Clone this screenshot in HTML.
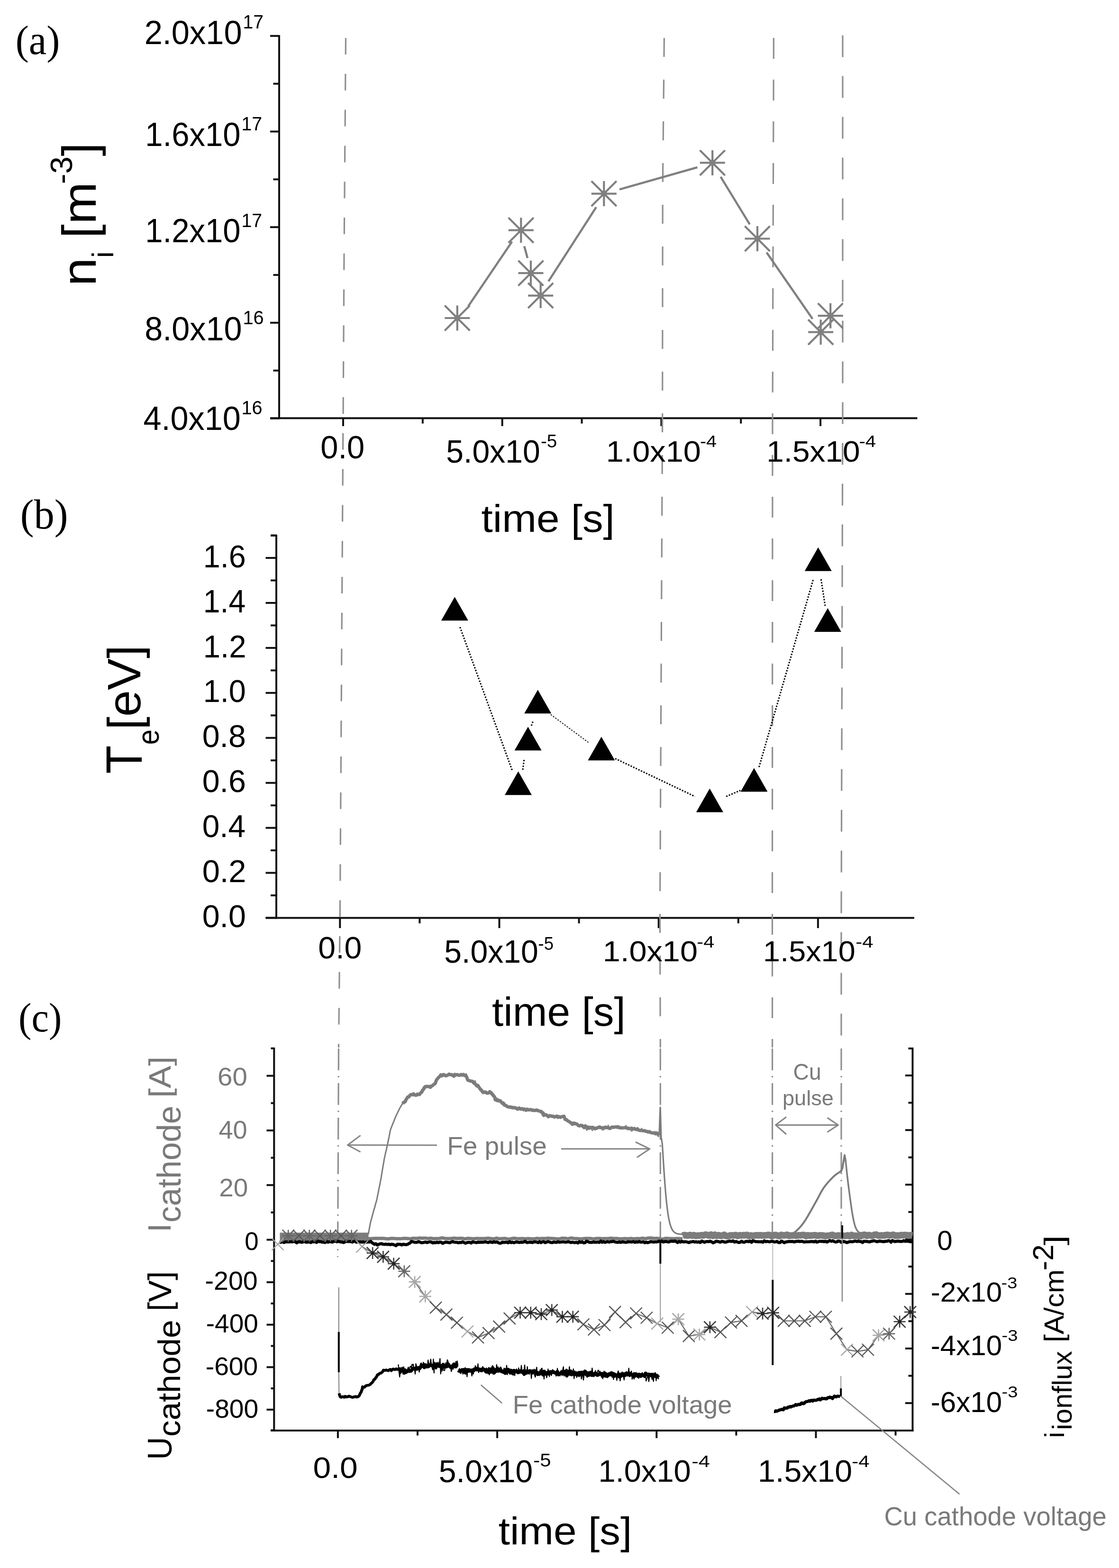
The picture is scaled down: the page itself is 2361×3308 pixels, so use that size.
<!DOCTYPE html>
<html><head><meta charset="utf-8"><title>Plasma pulse measurements</title>
<style>
html,body{margin:0;padding:0;background:#fff;}
svg{display:block;}
.S{font-family:"Liberation Sans",Arial,sans-serif;}
.R{font-family:"Liberation Serif","Times New Roman",serif;}
</style></head><body>
<svg width="2361" height="3308" viewBox="0 0 2361 3308">
<rect width="2361" height="3308" fill="#fff"/>
<line x1="589" y1="74" x2="589" y2="884.3" stroke="#111" stroke-width="4"/>
<line x1="570" y1="882.3" x2="1935.5" y2="882.3" stroke="#111" stroke-width="4"/>
<line x1="570" y1="75.8" x2="589" y2="75.8" stroke="#111" stroke-width="4"/>
<line x1="570" y1="277.5" x2="589" y2="277.5" stroke="#111" stroke-width="4"/>
<line x1="570" y1="479.2" x2="589" y2="479.2" stroke="#111" stroke-width="4"/>
<line x1="570" y1="680.9" x2="589" y2="680.9" stroke="#111" stroke-width="4"/>
<line x1="570" y1="882.6" x2="589" y2="882.6" stroke="#111" stroke-width="4"/>
<line x1="576.5" y1="176.65" x2="589" y2="176.65" stroke="#111" stroke-width="4"/>
<line x1="576.5" y1="378.35" x2="589" y2="378.35" stroke="#111" stroke-width="4"/>
<line x1="576.5" y1="580.05" x2="589" y2="580.05" stroke="#111" stroke-width="4"/>
<line x1="576.5" y1="781.75" x2="589" y2="781.75" stroke="#111" stroke-width="4"/>
<line x1="724" y1="882.3" x2="724" y2="899" stroke="#111" stroke-width="4"/>
<line x1="891.85" y1="882.3" x2="891.85" y2="893.5" stroke="#111" stroke-width="4"/>
<line x1="1059.7" y1="882.3" x2="1059.7" y2="899" stroke="#111" stroke-width="4"/>
<line x1="1227.55" y1="882.3" x2="1227.55" y2="893.5" stroke="#111" stroke-width="4"/>
<line x1="1395.4" y1="882.3" x2="1395.4" y2="899" stroke="#111" stroke-width="4"/>
<line x1="1563.25" y1="882.3" x2="1563.25" y2="893.5" stroke="#111" stroke-width="4"/>
<line x1="1731.1" y1="882.3" x2="1731.1" y2="899" stroke="#111" stroke-width="4"/>
<line x1="583" y1="1128" x2="583" y2="1938.4" stroke="#111" stroke-width="4"/>
<line x1="560.5" y1="1936.4" x2="1929" y2="1936.4" stroke="#111" stroke-width="4"/>
<line x1="560.5" y1="1936.4" x2="583" y2="1936.4" stroke="#111" stroke-width="4"/>
<line x1="571" y1="1888.94" x2="583" y2="1888.94" stroke="#111" stroke-width="4"/>
<line x1="560.5" y1="1841.48" x2="583" y2="1841.48" stroke="#111" stroke-width="4"/>
<line x1="571" y1="1794.02" x2="583" y2="1794.02" stroke="#111" stroke-width="4"/>
<line x1="560.5" y1="1746.56" x2="583" y2="1746.56" stroke="#111" stroke-width="4"/>
<line x1="571" y1="1699.1" x2="583" y2="1699.1" stroke="#111" stroke-width="4"/>
<line x1="560.5" y1="1651.64" x2="583" y2="1651.64" stroke="#111" stroke-width="4"/>
<line x1="571" y1="1604.18" x2="583" y2="1604.18" stroke="#111" stroke-width="4"/>
<line x1="560.5" y1="1556.72" x2="583" y2="1556.72" stroke="#111" stroke-width="4"/>
<line x1="571" y1="1509.26" x2="583" y2="1509.26" stroke="#111" stroke-width="4"/>
<line x1="560.5" y1="1461.8" x2="583" y2="1461.8" stroke="#111" stroke-width="4"/>
<line x1="571" y1="1414.34" x2="583" y2="1414.34" stroke="#111" stroke-width="4"/>
<line x1="560.5" y1="1366.88" x2="583" y2="1366.88" stroke="#111" stroke-width="4"/>
<line x1="571" y1="1319.42" x2="583" y2="1319.42" stroke="#111" stroke-width="4"/>
<line x1="560.5" y1="1271.96" x2="583" y2="1271.96" stroke="#111" stroke-width="4"/>
<line x1="571" y1="1224.5" x2="583" y2="1224.5" stroke="#111" stroke-width="4"/>
<line x1="560.5" y1="1177.04" x2="583" y2="1177.04" stroke="#111" stroke-width="4"/>
<line x1="571" y1="1129.58" x2="583" y2="1129.58" stroke="#111" stroke-width="4"/>
<line x1="571" y1="1129.7" x2="583" y2="1129.7" stroke="#111" stroke-width="4"/>
<line x1="717.3" y1="1936.4" x2="717.3" y2="1958" stroke="#111" stroke-width="4"/>
<line x1="885.4" y1="1936.4" x2="885.4" y2="1948" stroke="#111" stroke-width="4"/>
<line x1="1053.5" y1="1936.4" x2="1053.5" y2="1958" stroke="#111" stroke-width="4"/>
<line x1="1221.6" y1="1936.4" x2="1221.6" y2="1948" stroke="#111" stroke-width="4"/>
<line x1="1389.7" y1="1936.4" x2="1389.7" y2="1958" stroke="#111" stroke-width="4"/>
<line x1="1557.8" y1="1936.4" x2="1557.8" y2="1948" stroke="#111" stroke-width="4"/>
<line x1="1725.9" y1="1936.4" x2="1725.9" y2="1958" stroke="#111" stroke-width="4"/>
<line x1="578.3" y1="2210" x2="578.3" y2="3019.5" stroke="#111" stroke-width="4"/>
<line x1="1925.5" y1="2210" x2="1925.5" y2="3019.5" stroke="#111" stroke-width="4"/>
<line x1="571" y1="3018" x2="1927.5" y2="3018" stroke="#111" stroke-width="4"/>
<line x1="571.5" y1="2211.7" x2="578.3" y2="2211.7" stroke="#111" stroke-width="4"/>
<line x1="562.5" y1="2615.5" x2="578.3" y2="2615.5" stroke="#111" stroke-width="4"/>
<line x1="571.5" y1="2557.85" x2="578.3" y2="2557.85" stroke="#111" stroke-width="4"/>
<line x1="562.5" y1="2500.2" x2="578.3" y2="2500.2" stroke="#111" stroke-width="4"/>
<line x1="571.5" y1="2442.55" x2="578.3" y2="2442.55" stroke="#111" stroke-width="4"/>
<line x1="562.5" y1="2384.9" x2="578.3" y2="2384.9" stroke="#111" stroke-width="4"/>
<line x1="571.5" y1="2327.25" x2="578.3" y2="2327.25" stroke="#111" stroke-width="4"/>
<line x1="562.5" y1="2269.6" x2="578.3" y2="2269.6" stroke="#111" stroke-width="4"/>
<line x1="562.5" y1="2705.1" x2="578.3" y2="2705.1" stroke="#111" stroke-width="4"/>
<line x1="571.5" y1="2660.3" x2="578.3" y2="2660.3" stroke="#111" stroke-width="4"/>
<line x1="562.5" y1="2794.7" x2="578.3" y2="2794.7" stroke="#111" stroke-width="4"/>
<line x1="571.5" y1="2749.9" x2="578.3" y2="2749.9" stroke="#111" stroke-width="4"/>
<line x1="562.5" y1="2884.3" x2="578.3" y2="2884.3" stroke="#111" stroke-width="4"/>
<line x1="571.5" y1="2839.5" x2="578.3" y2="2839.5" stroke="#111" stroke-width="4"/>
<line x1="562.5" y1="2973.9" x2="578.3" y2="2973.9" stroke="#111" stroke-width="4"/>
<line x1="571.5" y1="2929.1" x2="578.3" y2="2929.1" stroke="#111" stroke-width="4"/>
<line x1="571.5" y1="3017.3" x2="578.3" y2="3017.3" stroke="#111" stroke-width="4"/>
<line x1="1925.5" y1="2211.9" x2="1916.5" y2="2211.9" stroke="#111" stroke-width="4"/>
<line x1="1925.5" y1="2960.1" x2="1910" y2="2960.1" stroke="#111" stroke-width="4"/>
<line x1="1925.5" y1="2902.5" x2="1916.5" y2="2902.5" stroke="#111" stroke-width="4"/>
<line x1="1925.5" y1="2844.9" x2="1910" y2="2844.9" stroke="#111" stroke-width="4"/>
<line x1="1925.5" y1="2787.3" x2="1916.5" y2="2787.3" stroke="#111" stroke-width="4"/>
<line x1="1925.5" y1="2729.7" x2="1910" y2="2729.7" stroke="#111" stroke-width="4"/>
<line x1="1925.5" y1="2672.1" x2="1916.5" y2="2672.1" stroke="#111" stroke-width="4"/>
<line x1="1925.5" y1="2614.5" x2="1910" y2="2614.5" stroke="#111" stroke-width="4"/>
<line x1="1925.5" y1="2556.9" x2="1916.5" y2="2556.9" stroke="#111" stroke-width="4"/>
<line x1="1925.5" y1="2499.3" x2="1910" y2="2499.3" stroke="#111" stroke-width="4"/>
<line x1="1925.5" y1="2441.7" x2="1916.5" y2="2441.7" stroke="#111" stroke-width="4"/>
<line x1="1925.5" y1="2384.1" x2="1910" y2="2384.1" stroke="#111" stroke-width="4"/>
<line x1="1925.5" y1="2326.5" x2="1916.5" y2="2326.5" stroke="#111" stroke-width="4"/>
<line x1="1925.5" y1="2268.9" x2="1910" y2="2268.9" stroke="#111" stroke-width="4"/>
<line x1="712.9" y1="3018" x2="712.9" y2="3034" stroke="#111" stroke-width="4"/>
<line x1="881" y1="3018" x2="881" y2="3028.5" stroke="#111" stroke-width="4"/>
<line x1="1049.1" y1="3018" x2="1049.1" y2="3034" stroke="#111" stroke-width="4"/>
<line x1="1217.2" y1="3018" x2="1217.2" y2="3028.5" stroke="#111" stroke-width="4"/>
<line x1="1385.3" y1="3018" x2="1385.3" y2="3034" stroke="#111" stroke-width="4"/>
<line x1="1553.4" y1="3018" x2="1553.4" y2="3028.5" stroke="#111" stroke-width="4"/>
<line x1="1721.5" y1="3018" x2="1721.5" y2="3034" stroke="#111" stroke-width="4"/>
<line x1="1889.6" y1="3018" x2="1889.6" y2="3028.5" stroke="#111" stroke-width="4"/>
<polyline points="729.5,80 726,540 724,882 717.3,1937 714.5,2210" fill="none" stroke="#8f8f8f" stroke-width="3.2" stroke-linejoin="round" stroke-dasharray="35 40.8" stroke-linecap="butt"/>
<polyline points="714.5,2212 712.5,2652" fill="none" stroke="#8f8f8f" stroke-width="3.2" stroke-linejoin="round" stroke-dasharray="46 12 3 12" stroke-linecap="butt"/>
<polyline points="1401.4,80 1398.2,400 1397.7,882 1392.4,1935 1393.3,2210" fill="none" stroke="#8f8f8f" stroke-width="3.2" stroke-linejoin="round" stroke-dasharray="40 48" stroke-linecap="butt"/>
<polyline points="1393.3,2212 1393.3,2612" fill="none" stroke="#8f8f8f" stroke-width="3.2" stroke-linejoin="round" stroke-dasharray="46 12 3 12" stroke-linecap="butt"/>
<polyline points="1632.4,80 1630,882 1629.5,1935 1629.6,2210" fill="none" stroke="#8f8f8f" stroke-width="3.2" stroke-linejoin="round" stroke-dasharray="44 44" stroke-linecap="butt"/>
<polyline points="1629.6,2212 1629.6,2612" fill="none" stroke="#8f8f8f" stroke-width="3.2" stroke-linejoin="round" stroke-dasharray="46 12 3 12" stroke-linecap="butt"/>
<polyline points="1778,74.5 1778,882 1775,1935 1775,2210" fill="none" stroke="#8f8f8f" stroke-width="3.2" stroke-linejoin="round" stroke-dasharray="46 40" stroke-linecap="butt"/>
<polyline points="1775,2212 1775,2612" fill="none" stroke="#8f8f8f" stroke-width="3.2" stroke-linejoin="round" stroke-dasharray="46 12 3 12" stroke-linecap="butt"/>
<line x1="988" y1="646" x2="1080.3" y2="509.8" stroke="#808080" stroke-width="4.5"/>
<line x1="1106.2" y1="519.3" x2="1113" y2="544.3" stroke="#808080" stroke-width="4.5"/>
<line x1="1157.2" y1="593.5" x2="1258" y2="437" stroke="#808080" stroke-width="4.5"/>
<line x1="1307" y1="399.6" x2="1471.4" y2="353" stroke="#808080" stroke-width="4.5"/>
<line x1="1520.5" y1="373" x2="1581.9" y2="473.3" stroke="#808080" stroke-width="4.5"/>
<line x1="1617.5" y1="532.6" x2="1714.4" y2="672.7" stroke="#808080" stroke-width="4.5"/>
<clipPath id="ca"><rect x="0" y="0" width="1779" height="1000"/></clipPath>
<g clip-path="url(#ca)">
<path d="M938.3 671H991.3M964.8 644.5V697.5M938.3 644.5L991.3 697.5M938.3 697.5L991.3 644.5" stroke="#808080" stroke-width="4.2" fill="none"/>
<rect x="958.8" y="665" width="12" height="12" fill="#808080"/>
<path d="M1072.8 485.7H1125.8M1099.3 459.2V512.2M1072.8 459.2L1125.8 512.2M1072.8 512.2L1125.8 459.2" stroke="#808080" stroke-width="4.2" fill="none"/>
<rect x="1093.3" y="479.7" width="12" height="12" fill="#808080"/>
<path d="M1093.5 576.2H1146.5M1120 549.7V602.7M1093.5 549.7L1146.5 602.7M1093.5 602.7L1146.5 549.7" stroke="#808080" stroke-width="4.2" fill="none"/>
<rect x="1114" y="570.2" width="12" height="12" fill="#808080"/>
<path d="M1114.2 623.6H1167.2M1140.7 597.1V650.1M1114.2 597.1L1167.2 650.1M1114.2 650.1L1167.2 597.1" stroke="#808080" stroke-width="4.2" fill="none"/>
<rect x="1134.7" y="617.6" width="12" height="12" fill="#808080"/>
<path d="M1247.8 408.6H1300.8M1274.3 382.1V435.1M1247.8 382.1L1300.8 435.1M1247.8 435.1L1300.8 382.1" stroke="#808080" stroke-width="4.2" fill="none"/>
<rect x="1268.3" y="402.6" width="12" height="12" fill="#808080"/>
<path d="M1476.7 343.4H1529.7M1503.2 316.9V369.9M1476.7 316.9L1529.7 369.9M1476.7 369.9L1529.7 316.9" stroke="#808080" stroke-width="4.2" fill="none"/>
<rect x="1497.2" y="337.4" width="12" height="12" fill="#808080"/>
<path d="M1571.5 503.5H1624.5M1598 477V530M1571.5 477L1624.5 530M1571.5 530L1624.5 477" stroke="#808080" stroke-width="4.2" fill="none"/>
<rect x="1592" y="497.5" width="12" height="12" fill="#808080"/>
<path d="M1705.2 700.7H1758.2M1731.7 674.2V727.2M1705.2 674.2L1758.2 727.2M1705.2 727.2L1758.2 674.2" stroke="#808080" stroke-width="4.2" fill="none"/>
<rect x="1725.7" y="694.7" width="12" height="12" fill="#808080"/>
<path d="M1725.7 666.2H1778.7M1752.2 639.7V692.7M1725.7 639.7L1778.7 692.7M1725.7 692.7L1778.7 639.7" stroke="#808080" stroke-width="4.2" fill="none"/>
<rect x="1746.2" y="660.2" width="12" height="12" fill="#808080"/>
</g>
<line x1="970.5" y1="1322.9" x2="1080.7" y2="1625.2" stroke="#000" stroke-width="3" stroke-dasharray="3 3"/>
<line x1="1103" y1="1624" x2="1106" y2="1601" stroke="#000" stroke-width="3" stroke-dasharray="3 3"/>
<line x1="1121.2" y1="1531" x2="1125.2" y2="1520" stroke="#000" stroke-width="3" stroke-dasharray="3 3"/>
<line x1="1162" y1="1507.4" x2="1241.3" y2="1566.2" stroke="#222" stroke-width="2.2" stroke-dasharray="3 3"/>
<line x1="1298" y1="1600.3" x2="1466.2" y2="1680.3" stroke="#000" stroke-width="3" stroke-dasharray="3 3"/>
<line x1="1532.2" y1="1680.3" x2="1562.2" y2="1667.5" stroke="#000" stroke-width="3" stroke-dasharray="3 3"/>
<line x1="1601.5" y1="1618.3" x2="1716.3" y2="1221.2" stroke="#000" stroke-width="3" stroke-dasharray="3 3"/>
<line x1="1732.3" y1="1222" x2="1741.5" y2="1281.3" stroke="#000" stroke-width="3" stroke-dasharray="3 3"/>
<path d="M959.4 1259.2L987.9 1309.2L930.9 1309.2Z" fill="#000"/>
<path d="M1093.5 1627.2L1122 1677.2L1065 1677.2Z" fill="#000"/>
<path d="M1114.1 1533.2L1142.6 1583.2L1085.6 1583.2Z" fill="#000"/>
<path d="M1134.7 1455.3L1163.2 1505.3L1106.2 1505.3Z" fill="#000"/>
<path d="M1268.9 1554.2L1297.4 1604.2L1240.4 1604.2Z" fill="#000"/>
<path d="M1497.4 1663.5L1525.9 1713.5L1468.9 1713.5Z" fill="#000"/>
<path d="M1591 1620.3L1619.5 1670.3L1562.5 1670.3Z" fill="#000"/>
<path d="M1726.3 1154.8L1754.8 1204.8L1697.8 1204.8Z" fill="#000"/>
<path d="M1746.4 1282.9L1774.9 1332.9L1717.9 1332.9Z" fill="#000"/>
<rect x="590.5" y="2600.5" width="187" height="17" fill="#7c7c7c"/>
<polyline points="776,2613 782.04,2613.18 788.07,2612.84 794.11,2612.47 800.15,2612.73 806.18,2612.41 812.22,2613.04 818.25,2613.8 824.29,2612.7 830.33,2612.63 836.36,2613.29 842.4,2613.21 848.44,2613.06 854.47,2612.44 860.51,2612.98 866.55,2613.42 872.58,2612.19 878.62,2612.73 884.65,2611.86 890.69,2612.23 896.73,2611.89 902.76,2612.86 908.8,2612.24 914.84,2613.16 920.87,2613.09 926.91,2612.89 932.95,2611.49 938.98,2612.68 945.02,2612.97 951.05,2613.07 957.09,2612.08 963.13,2612.71 969.16,2612.41 975.2,2612.51 981.24,2613.64 987.27,2612.52 993.31,2612.98 999.35,2613.53 1005.38,2612.65 1011.42,2612.93 1017.45,2613.07 1023.49,2613.04 1029.53,2612.26 1035.56,2613.05 1041.6,2613.82 1047.64,2612.07 1053.67,2613.52 1059.71,2613.07 1065.75,2612.62 1071.78,2614.2 1077.82,2613.46 1083.85,2612.28 1089.89,2613.04 1095.93,2613.35 1101.96,2612.89 1108,2613.41 1114.04,2612.96 1120.07,2613.4 1126.11,2613.86 1132.15,2612.59 1138.18,2613.12 1144.22,2612.72 1150.25,2613.08 1156.29,2612.29 1162.33,2612.65 1168.36,2612.88 1174.4,2613.54 1180.44,2613.69 1186.47,2612.21 1192.51,2612.52 1198.55,2613.39 1204.58,2611.8 1210.62,2612.72 1216.65,2612.94 1222.69,2613.75 1228.73,2613.41 1234.76,2612.8 1240.8,2612.78 1246.84,2612.85 1252.87,2613.91 1258.91,2612.74 1264.95,2612.82 1270.98,2613.21 1277.02,2612.93 1283.05,2612.88 1289.09,2612.33 1295.13,2612.99 1301.16,2612.73 1307.2,2613.7 1313.24,2613.39 1319.27,2612.99 1325.31,2613.4 1331.35,2612.8 1337.38,2613.63 1343.42,2613 1349.45,2613.35 1355.49,2612.23 1361.53,2613.21 1367.56,2611.99 1373.6,2611.78 1379.64,2612.82 1385.67,2612.46 1391.71,2613.1 1397.75,2614.35 1403.78,2612.5 1409.82,2612.63 1415.85,2613.12 1421.89,2613.3 1427.93,2612.89 1433.96,2612.88 1440,2613.42" fill="none" stroke="#7c7c7c" stroke-width="7" stroke-linejoin="round"/>
<polyline points="1440,2606.97 1444.01,2605.57 1448.02,2606.43 1452.02,2606.53 1456.03,2605.55 1460.04,2606.73 1464.05,2605.73 1468.06,2607.37 1472.07,2606.67 1476.07,2606.58 1480.08,2605.97 1484.09,2606.39 1488.1,2604.7 1492.11,2605.48 1496.12,2606.83 1500.12,2604.58 1504.13,2607.26 1508.14,2604.93 1512.15,2607.18 1516.16,2605.74 1520.17,2607.2 1524.17,2606.62 1528.18,2605.12 1532.19,2607.62 1536.2,2607.8 1540.21,2606.44 1544.21,2606.25 1548.22,2606.36 1552.23,2605.62 1556.24,2607.49 1560.25,2606.01 1564.26,2606.45 1568.26,2605.79 1572.27,2605.94 1576.28,2605.35 1580.29,2607.63 1584.3,2606.36 1588.31,2607.37 1592.31,2606.51 1596.32,2605.88 1600.33,2606.21 1604.34,2606 1608.35,2606.51 1612.36,2606.16 1616.36,2606.23 1620.37,2605.26 1624.38,2605.77 1628.39,2607.99 1632.4,2605.9 1636.4,2605.55 1640.41,2606.8 1644.42,2607.77 1648.43,2605.19 1652.44,2606.31 1656.45,2605.93 1660.45,2604.92 1664.46,2607.16 1668.47,2606.48 1672.48,2606.56 1676.49,2605.82 1680.5,2606.91 1684.5,2606.01 1688.51,2606.37 1692.52,2605.5 1696.53,2605.41 1700.54,2607.7 1704.55,2606.04 1708.55,2606.76 1712.56,2606.47 1716.57,2606.1 1720.58,2606.04 1724.59,2607.07 1728.6,2606.23 1732.6,2606.36 1736.61,2606.52 1740.62,2607.56 1744.63,2607.11 1748.64,2606.84 1752.64,2605.99 1756.65,2605.26 1760.66,2607.35 1764.67,2607.37 1768.68,2606.37 1772.69,2606.99 1776.69,2607.2 1780.7,2607.25 1784.71,2607.33 1788.72,2606.09 1792.73,2607.86 1796.74,2605.38 1800.74,2607.28 1804.75,2606.94 1808.76,2607.29 1812.77,2608.19 1816.78,2607.84 1820.79,2605.47 1824.79,2604.98 1828.8,2607.24 1832.81,2605.59 1836.82,2606.49 1840.83,2607.26 1844.83,2605.02 1848.84,2604.6 1852.85,2606.73 1856.86,2606.54 1860.87,2606.28 1864.88,2606.53 1868.88,2605.73 1872.89,2605.14 1876.9,2606.35 1880.91,2605.63 1884.92,2605.02 1888.93,2606.96 1892.93,2606.44 1896.94,2606.87 1900.95,2605.61 1904.96,2605.91 1908.97,2605.6 1912.98,2605.7 1916.98,2606.68 1920.99,2605.8 1925,2606.82" fill="none" stroke="#7c7c7c" stroke-width="14" stroke-linejoin="round"/>
<polyline points="777,2604.1 777.6,2601.43 778.2,2597.23 778.8,2594.74 779.4,2591.27 780,2588.12 780.6,2584.52 781.2,2581.64 781.8,2578.82 782.62,2575.6 783.45,2572.67 784.27,2569.59 785.1,2567.05 785.92,2563.72 786.75,2560.09 787.57,2557.57 788.4,2554.21 789.23,2550.85 790.05,2548.69 790.88,2546.28 791.7,2542.91 792.52,2539.57 793.35,2536.67 794.17,2534.31 795,2531.05 795.62,2527.94 796.23,2524.83 796.85,2521.78 797.46,2518.93 798.08,2515.78 798.69,2512.6 799.31,2509.15 799.92,2506.54 800.54,2503.1 801.15,2500.56 801.77,2496.77 802.38,2494.04 803,2491 803.5,2487.64 804,2485.59 804.5,2482.55 805,2479.01 805.5,2476.42 806,2473.34 806.5,2469.48 807,2467.38 807.5,2464.32 808,2461.4 808.5,2458.09 809,2455.37 809.5,2452.43 810,2449.88 810.5,2446.66 811,2443.6 811.73,2440.83 812.47,2436.97 813.2,2433.78 813.93,2430.12 814.67,2427.9 815.4,2424.49 816.13,2421.24 816.87,2417.93 817.6,2414.53 818.24,2411.38 818.88,2408.06 819.52,2404.9 820.16,2401.8 820.8,2399.05 821.44,2395.59 822.08,2392.22 822.72,2388.89 823.36,2385.69 824,2383.18 825.2,2379.89 826.4,2376.79 827.6,2373.7 828.8,2370.5 830,2367.85 831.2,2365.16 832.4,2361.82 833.6,2358.9 834.8,2355.93 836.12,2353.28 837.45,2350.02 838.77,2347.68 840.1,2344.74 841.42,2342.52 842.75,2339.27 844.07,2336.92 845.4,2334.46 847.6,2330.91 849.8,2327.82 852,2325.06" fill="none" stroke="#7c7c7c" stroke-width="3" stroke-linejoin="round"/>
<polyline points="850,2328.7 851.67,2325.44 853.33,2324.87 855,2324.42 856.67,2319.75 858.33,2317.64 860,2314.55 862.5,2314.23 865,2310.68 867.5,2309.01 870,2309.81 872.5,2307.63 875,2310.04 877.5,2310.75 880,2309.59 882.5,2308.76 885,2309.15 887.5,2305.63 890,2304.05 891.25,2300.44 892.5,2299.2 893.75,2298 895,2294.66 897.5,2292.25 900,2292.03 902.5,2292.1 905,2292.65 907.5,2291.79 910,2291.94 912.67,2290.19 915.33,2287.7 918,2286.16 919,2283.63 920,2280.51 921,2278.35 922,2277.06 924.67,2273.85 927.33,2271.46 930,2267.75 932.5,2269.79 935,2266.98 937.5,2267.34 940,2269.59 942.5,2269.19 945,2268.01 947.5,2266.06 950,2267.29 952.5,2267.07 955,2268.63 957.5,2270.52 960,2268.39 962.5,2267.41 965,2267.09 967.5,2268.43 970,2268.41 972.6,2267.15 975.2,2268.37 977.8,2266.79 980.4,2269.1 983,2268.87 984,2271.67 985,2272.73 986,2276.59 987,2278.65 989.6,2279.47 992.2,2280.63 994.8,2280.67 997.4,2281.61 1000,2285.17 1002,2285.95 1004,2288.26 1006,2290.98 1008,2289.83 1010,2292.74 1012,2296.01 1014,2298.47 1016,2299.85 1018,2303.61 1020,2304.93 1022.5,2303.59 1025,2304.13 1027.5,2306.26 1030,2306.11 1033.5,2303.06 1037,2306.18 1038.33,2307.51 1039.67,2310.48 1041,2310.73 1042.33,2312.97 1043.67,2314.21 1045,2320.39 1047.14,2318.72 1049.29,2321.97 1051.43,2320.83 1053.57,2323.04 1055.71,2322.33 1057.86,2325.06 1060,2327.88 1062,2327.08 1064,2331.3 1066,2332.15 1068,2332.29 1070,2334.55 1072.5,2335.06 1075,2335.97 1077.5,2335.9 1080,2336.04 1082.5,2337.08 1085,2336.75 1087.5,2336.92 1090,2338.75 1092.5,2340.01 1095,2337.59 1097.5,2339.52 1100,2339.04 1102.5,2338.91 1105,2341.16 1107.5,2339.89 1110,2342.35 1112.5,2340.07 1115,2341.58 1117.5,2341.12 1120,2340.77 1122.5,2342.47 1125,2341.88 1127.5,2342.94 1130,2342.45 1132.5,2341.68 1135,2343.14 1137.5,2343.68 1140,2345.05 1142,2344.86 1144,2347.68 1146,2347.69 1148,2352.16 1150,2352.11 1152.5,2351.76 1155,2354.13 1157.5,2355.87 1160,2353.42 1162.5,2354.35 1165,2355.18 1167.5,2354.86 1170,2356.62 1172.5,2355.41 1175,2355.61 1177.5,2357.14 1180,2355.77 1182.5,2357.18 1185,2355.73 1187.5,2355.57 1190,2354.98 1192.5,2361.8 1195,2362.15 1197.5,2364.39 1200,2365.72 1202.5,2367.55 1205,2369.05 1207.5,2371.87 1210,2369.39 1212.5,2369.59 1215,2370.95 1217.5,2371.37 1220,2374.42 1222.5,2375.27 1225,2374.08 1227.5,2374.37 1230,2376.28 1232.5,2378.96 1235,2375.1 1237.5,2379.08 1240,2377.62 1242.5,2380.24 1245,2378.21 1247.5,2379.39 1250,2378.34 1252.5,2378.84 1255,2381.36 1257.5,2380.65 1260,2379.22 1262.5,2378.63 1265,2377.42 1267.5,2378.98 1270,2379.3 1272.5,2379.16 1275,2379.06 1277.5,2377.85 1280,2378.93 1282.5,2378.86 1285,2380.22 1287.5,2380.75 1290,2378.45 1292.5,2377.66 1295,2378.33 1297.5,2377.63 1300,2377.38 1302.5,2378.37 1305,2377.52 1307.5,2379.57 1310,2379.02 1312.5,2379.64 1315,2379.4 1317.5,2379.03 1320,2379.02 1322.5,2380.04 1325,2379.93 1327.5,2381.02 1330,2381 1332.5,2379.96 1335,2381.99 1337.5,2380.9 1340,2382.16 1342.5,2382.97 1345,2381.47 1347.5,2384.31 1350,2384.83 1352.5,2384.95 1355,2385.12 1357.5,2385.63 1360,2385.43 1362.58,2386.74 1365.17,2386.98 1367.75,2388.23 1370.33,2387.34 1372.92,2389.47 1375.5,2389.91 1378.08,2390.14 1380.67,2390.35 1383.25,2391.98 1385.83,2390.09 1388.42,2392.96 1391,2393.27" fill="none" stroke="#7c7c7c" stroke-width="7" stroke-linejoin="round"/>
<polyline points="850,2329.44 852,2327.1 854,2321.8 856,2320.23 858,2319.96 860,2316.82 862.5,2314.41 865,2308.11 867.5,2311.62 870,2311.44 873.33,2311.33 876.67,2309.61 880,2305.25 883.33,2310.22 886.67,2305.85 890,2298.12 891.25,2302.91 892.5,2295.27 893.75,2293 895,2291.95 898,2296.53 901,2291.88 904,2293.16 907,2296.62 910,2295.84 912.67,2289.6 915.33,2287.41 918,2282.92 919.33,2280.66 920.67,2279.84 922,2276.03 924.67,2273.49 927.33,2273.99 930,2267.59 933.33,2269.14 936.67,2270.87 940,2270.17 943.33,2271.12 946.67,2269.05 950,2266.9 953.33,2268.79 956.67,2265.39 960,2263.89 963.33,2269.81 966.67,2268.31 970,2269.4 973.25,2263.96 976.5,2267.2 979.75,2266.37 983,2265.45 984.33,2265.54 985.67,2274.23 987,2281.13 990.25,2281.17 993.5,2279.99 996.75,2282.89 1000,2286.27 1002.5,2279.45 1005,2288.63 1007.5,2292.69 1010,2295.37 1012.5,2300.8 1015,2302.1 1017.5,2302.74 1020,2305.49 1023.33,2307.05 1026.67,2303.9 1030,2305.5 1033.5,2307.51 1037,2309.79 1038.6,2306.87 1040.2,2309.73 1041.8,2312.96 1043.4,2318.51 1045,2317.52 1048,2323.26 1051,2318.77 1054,2322.64 1057,2324.44 1060,2328.84 1062.5,2331.59 1065,2327.03 1067.5,2330.65 1070,2335.98 1073.33,2334 1076.67,2332.38 1080,2339.65 1083.33,2338.85 1086.67,2339.47 1090,2337.56 1093.33,2341.79 1096.67,2338.81 1100,2342.6 1103.33,2337.7 1106.67,2338.16 1110,2341.23 1113.33,2339.17 1116.67,2343.06 1120,2342.28 1123.33,2339.5 1126.67,2342.39 1130,2341.59 1133.33,2345.38 1136.67,2341.86 1140,2342.86 1142.5,2349.47 1145,2354.47 1147.5,2356.17 1150,2353.46 1153,2354.41 1156,2358.37 1159,2354.6 1162,2352.92 1165,2356.3 1168.12,2357.3 1171.25,2354.09 1174.38,2352.09 1177.5,2352.76 1180.62,2358.36 1183.75,2354.78 1186.88,2356.51 1190,2357.55 1192.5,2361.36 1195,2361.63 1198.33,2365.96 1201.67,2364.52 1205,2368.06 1208,2367.26 1211,2373.78 1214,2371.69 1217,2370.76 1220,2372.68 1223,2373.94 1226,2377.26 1229,2372.21 1232,2374.58 1235,2377.22 1238,2385.14 1241,2381.4 1244,2378.99 1247,2381.49 1250,2385.35 1253,2379.29 1256,2378.85 1259,2382.85 1262,2380.88 1265,2381.25 1268,2378.08 1271,2384.3 1274,2383.64 1277,2380.57 1280,2380.78 1283.33,2373.6 1286.67,2380.39 1290,2378.1 1293.33,2379.59 1296.67,2380.11 1300,2377.31 1303,2374.08 1306,2379.72 1309,2377.11 1312,2378.46 1315,2378.03 1318,2378.99 1321,2374.16 1324,2383.6 1327,2381.38 1330,2383.89 1333,2386.7 1336,2382.16 1339,2377.96 1342,2380.88 1345,2380.61 1348,2383 1351,2385.06 1354,2380.19 1357,2386.84 1360,2382.57 1363.1,2387.92 1366.2,2387.52 1369.3,2387.63 1372.4,2388.91 1375.5,2388.35 1378.6,2388.81 1381.7,2386.67 1384.8,2391.62 1387.9,2397.15 1391,2398.15" fill="none" stroke="#7c7c7c" stroke-width="2" stroke-linejoin="round"/>
<polyline points="1391,2395 1393.1,2336.6 1395,2405" fill="none" stroke="#7c7c7c" stroke-width="3.5" stroke-linejoin="round"/>
<polyline points="1395,2400 1397.2,2411.52 1398.4,2429.72 1399.6,2448.81 1400.8,2467.52 1402,2485.18 1403.2,2501.44 1404.4,2516.14 1405.6,2529.25 1406.8,2540.79 1408,2550.86 1409.2,2559.55 1410.4,2567.01 1411.6,2573.36 1412.8,2578.73 1414,2583.25 1415.2,2587.02 1416.4,2590.17 1417.6,2592.77 1418.8,2594.91 1420,2596.67 1421.2,2598.11 1422.4,2599.28 1423.6,2600.23 1424.8,2601 1426,2601.62 1427.2,2602.11 1428.4,2602.51 1429.6,2602.82 1430.8,2603.08 1432,2603.28 1433.2,2603.43 1434.4,2603.56 1435.6,2603.66 1436.8,2603.73 1438,2603.79 1439.2,2603.84 1440.4,2603.88 1441.6,2603.91 1442.8,2603.93 1444,2603.94 1445.2,2603.96 1446.4,2603.97 1447.6,2603.98 1448.8,2603.98 1450,2603.99 1451.2,2603.99 1452.4,2603.99 1453.6,2603.99 1454.8,2604 1456,2604 1457.2,2604 1458.4,2604 1459.6,2604 1460.8,2604 1462,2604 1463.2,2604 1464.4,2604 1465.6,2604 1466.8,2604 1480,2604" fill="none" stroke="#7c7c7c" stroke-width="3.2" stroke-linejoin="round"/>
<polyline points="1668,2604 1668.88,2603.56 1670.02,2603.07 1671.36,2602.5 1672.88,2601.81 1674.53,2600.96 1676.3,2599.9 1678.13,2598.59 1680,2597 1681.92,2595.18 1683.94,2593.2 1686.06,2591.03 1688.27,2588.62 1690.57,2585.96 1692.96,2582.98 1695.44,2579.68 1698,2576 1700.74,2571.76 1703.68,2566.9 1706.77,2561.61 1709.92,2556.06 1713.06,2550.45 1716.12,2544.95 1719.02,2539.74 1721.7,2535 1724.11,2530.68 1726.32,2526.56 1728.38,2522.64 1730.36,2518.88 1732.3,2515.25 1734.29,2511.75 1736.37,2508.34 1738.6,2505 1741.03,2501.7 1743.62,2498.45 1746.3,2495.29 1749.01,2492.25 1751.7,2489.37 1754.3,2486.67 1756.76,2484.21 1759,2482 1761.08,2480.09 1763.07,2478.47 1764.96,2477.08 1766.74,2475.88 1768.4,2474.81 1769.92,2473.84 1771.29,2472.92 1772.5,2472 1773.52,2471.1 1774.36,2470.28 1775.04,2469.54 1775.59,2468.88 1776.04,2468.29 1776.4,2467.78 1776.71,2467.35 1777,2467" fill="none" stroke="#7c7c7c" stroke-width="4" stroke-linejoin="round"/>
<polyline points="1777,2467 1779.5,2452 1782,2437 1784.4,2450" fill="none" stroke="#7c7c7c" stroke-width="4" stroke-linejoin="round"/>
<polyline points="1784.4,2450 1784.67,2452.6 1785.02,2456.02 1785.43,2460.1 1785.9,2464.64 1786.4,2469.48 1786.93,2474.44 1787.47,2479.34 1788,2484 1788.54,2488.55 1789.11,2493.2 1789.69,2497.93 1790.3,2502.71 1790.92,2507.5 1791.54,2512.29 1792.17,2517.03 1792.8,2521.7 1793.43,2526.38 1794.08,2531.15 1794.73,2535.92 1795.39,2540.66 1796.05,2545.3 1796.7,2549.77 1797.36,2554.03 1798,2558 1798.63,2561.73 1799.26,2565.28 1799.89,2568.66 1800.51,2571.85 1801.13,2574.86 1801.75,2577.67 1802.38,2580.29 1803,2582.7 1803.62,2584.88 1804.25,2586.82 1804.88,2588.54 1805.5,2590.08 1806.12,2591.47 1806.75,2592.73 1807.38,2593.9 1808,2595 1808.6,2595.99 1809.16,2596.83 1809.7,2597.54 1810.25,2598.14 1810.83,2598.67 1811.47,2599.13 1812.18,2599.57 1813,2600 1814,2600.41 1815.18,2600.76 1816.48,2601.06 1817.81,2601.31 1819.11,2601.53 1820.29,2601.71 1821.28,2601.87 1822,2602" fill="none" stroke="#7c7c7c" stroke-width="3.5" stroke-linejoin="round"/>
<polyline points="590,2621.19 593,2620.64 596,2619.39 599,2621.3 602,2619.95 605,2619.94 608,2619.74 611,2620.08 614,2619.61 617,2619.92 620,2619.02 623,2619.66 626,2622.05 629,2619.94 632,2619.79 635,2620.48 638,2620.64 641,2619 644,2619.81 647,2620.83 650,2620.24 653,2620.11 656,2621.4 659,2619.39 662,2620.07 665,2619.53 668,2621.34 671,2618.24 674,2619.4 677,2619.52 680,2620.6 683,2620.55 686,2621.26 689,2618.58 692,2620.68 695,2619.74 698,2619.4 701,2620.49 704,2619.17 707,2618.13 710,2619.67 713,2618.65 716,2619.42 719,2620.33 722,2620.28 725,2621.43 728,2619.82 731,2618.62 734,2619.32 737,2619.17 740,2618.9 743,2620.39 746,2619.42 749,2618.22 752,2620.63 755,2619.9 758,2620.32 761,2620.1 764,2620.57 767,2620.03 770,2621.11 773,2620.38 776,2620.35 779,2620.37 782,2618.69 784.67,2621.52 787.33,2623.1 790,2625.19 793.04,2623.82 796.09,2626.56 799.13,2625.22 802.17,2624.08 805.22,2623.68 808.26,2625.01 811.3,2625.22 814.35,2624.7 817.39,2625.47 820.43,2624.86 823.48,2625.97 826.52,2624.87 829.57,2625.53 832.61,2626.49 835.65,2627.97 838.7,2624.79 841.74,2625.32 844.78,2625.03 847.83,2626.53 850.87,2624.84 853.91,2625.48 856.96,2625.93 860,2625.12 862.67,2623.47 865.33,2622.24 868,2619.11 871,2619.69 874.01,2620.62 877.01,2621.12 880.01,2620.81 883.01,2619.38 886.02,2620.55 889.02,2621.68 892.02,2621.45 895.03,2620.88 898.03,2620.14 901.03,2621.51 904.03,2620.41 907.04,2619.87 910.04,2620.2 913.04,2622.22 916.05,2621.11 919.05,2621.95 922.05,2620.47 925.05,2621.74 928.06,2620.35 931.06,2620.74 934.06,2623.11 937.07,2621.56 940.07,2620.41 943.07,2620.78 946.07,2621.15 949.08,2621.94 952.08,2620.4 955.08,2619.27 958.09,2620.58 961.09,2620.84 964.09,2620.92 967.09,2622 970.1,2621.09 973.1,2621.53 976.1,2619.8 979.11,2621.57 982.11,2622.67 985.11,2621.47 988.11,2621 991.12,2620.91 994.12,2622.37 997.12,2619.92 1000.12,2620.65 1003.13,2621.16 1006.13,2621.41 1009.13,2620.34 1012.14,2621 1015.14,2620.47 1018.14,2620.82 1021.14,2620.59 1024.15,2619.68 1027.15,2620.68 1030.15,2621.48 1033.16,2619.82 1036.16,2620.46 1039.16,2621.27 1042.16,2619.71 1045.17,2620.83 1048.17,2619.7 1051.17,2621.67 1054.18,2622.73 1057.18,2622.46 1060.18,2620.44 1063.18,2621.3 1066.19,2620.73 1069.19,2620.71 1072.19,2622.01 1075.2,2619.42 1078.2,2621.55 1081.2,2620.55 1084.2,2621.86 1087.21,2620.75 1090.21,2619.97 1093.21,2620.82 1096.22,2621.23 1099.22,2620.59 1102.22,2621 1105.22,2620.08 1108.23,2618.62 1111.23,2621.35 1114.23,2621.16 1117.24,2620.66 1120.24,2620.58 1123.24,2621.45 1126.24,2620.1 1129.25,2619.87 1132.25,2620.33 1135.25,2621.56 1138.26,2619.24 1141.26,2621.56 1144.26,2619.9 1147.26,2619.48 1150.27,2621.6 1153.27,2620.37 1156.27,2619.28 1159.28,2620.13 1162.28,2621.28 1165.28,2621.51 1168.28,2620.05 1171.29,2620.79 1174.29,2621.06 1177.29,2619.83 1180.3,2620.73 1183.3,2620.37 1186.3,2619.92 1189.3,2619.95 1192.31,2620.45 1195.31,2620.41 1198.31,2619.87 1201.32,2619.99 1204.32,2621.37 1207.32,2620.55 1210.32,2621.15 1213.33,2621.43 1216.33,2620.87 1219.33,2622.38 1222.34,2619.59 1225.34,2621.05 1228.34,2620.03 1231.34,2621.98 1234.35,2621.84 1237.35,2618.54 1240.35,2619.42 1243.36,2620.89 1246.36,2620.99 1249.36,2620.94 1252.36,2620.21 1255.37,2620.68 1258.37,2620.85 1261.37,2620.19 1264.38,2621.17 1267.38,2618.21 1270.38,2620.81 1273.38,2619.3 1276.39,2621.09 1279.39,2620.02 1282.39,2619.42 1285.39,2620.55 1288.4,2619.38 1291.4,2619.38 1294.4,2618.78 1297.41,2620.16 1300.41,2620.63 1303.41,2621.1 1306.41,2620.04 1309.42,2621.11 1312.42,2620.18 1315.42,2620.07 1318.43,2620.66 1321.43,2621.09 1324.43,2619.83 1327.43,2619.91 1330.44,2619.98 1333.44,2620.19 1336.44,2619.3 1339.45,2621.03 1342.45,2619.74 1345.45,2620.51 1348.45,2619.35 1351.46,2620.41 1354.46,2620.43 1357.46,2619.7 1360.47,2621.89 1363.47,2620.4 1366.47,2621.66 1369.47,2620.91 1372.48,2619.45 1375.48,2619.7 1378.48,2620.43 1381.49,2620.08 1384.49,2620.07 1387.49,2619.76 1390.49,2618.38 1393.5,2619.8 1396.5,2618 1399.5,2620.33 1402.51,2619.34 1405.51,2619.34 1408.51,2619.78 1411.51,2620.22 1414.52,2618.68 1417.52,2618.39 1420.52,2619 1423.53,2618.11 1426.53,2619.07 1429.53,2621.37 1432.53,2618.98 1435.54,2620.51 1438.54,2618.69 1441.54,2620.18 1444.55,2619.62 1447.55,2619.85 1450.55,2620.41 1453.55,2621.47 1456.56,2620.06 1459.56,2619.99 1462.56,2619 1465.57,2620.39 1468.57,2619.64 1471.57,2620.61 1474.57,2619.81 1477.58,2621.41 1480.58,2618.06 1483.58,2619.57 1486.59,2620.62 1489.59,2619.51 1492.59,2619.11 1495.59,2619.57 1498.6,2618.56 1501.6,2619.91 1504.6,2621.99 1507.61,2620.82 1510.61,2618.79 1513.61,2618.99 1516.61,2619.41 1519.62,2620.67 1522.62,2619.02 1525.62,2619.13 1528.62,2620.55 1531.63,2620.52 1534.63,2619.4 1537.63,2618.73 1540.64,2618.33 1543.64,2619.09 1546.64,2617.71 1549.64,2620.39 1552.65,2619.14 1555.65,2620.13 1558.65,2621.37 1561.66,2620.74 1564.66,2618.65 1567.66,2620.46 1570.66,2620.71 1573.67,2618.99 1576.67,2618.8 1579.67,2619.55 1582.68,2618.21 1585.68,2620.97 1588.68,2617.47 1591.68,2618.63 1594.69,2619.38 1597.69,2619.41 1600.69,2619.76 1603.7,2619.85 1606.7,2619.41 1609.7,2620.62 1612.7,2617.67 1615.71,2619.59 1618.71,2618.94 1621.71,2619.69 1624.72,2619.77 1627.72,2618.74 1630.72,2618.98 1633.72,2620.26 1636.73,2619.86 1639.73,2618.93 1642.73,2621.37 1645.74,2621.61 1648.74,2618.21 1651.74,2619.79 1654.74,2621.77 1657.75,2620.21 1660.75,2619.7 1663.75,2619.31 1666.76,2619 1669.76,2619.29 1672.76,2618.98 1675.76,2620.14 1678.77,2619.11 1681.77,2619.06 1684.77,2618.37 1687.78,2619.4 1690.78,2618.64 1693.78,2619.27 1696.78,2620.37 1699.79,2619.76 1702.79,2619.87 1705.79,2619.74 1708.8,2619.46 1711.8,2619.29 1714.8,2619.12 1717.8,2620.08 1720.81,2618.41 1723.81,2620.59 1726.81,2619.41 1729.82,2618.7 1732.82,2618.92 1735.82,2618.75 1738.82,2619.5 1741.83,2618.7 1744.83,2620.37 1747.83,2618.63 1750.84,2617.28 1753.84,2618.67 1756.84,2617.51 1759.84,2619.28 1762.85,2620.26 1765.85,2619.88 1768.85,2618.09 1771.86,2618.6 1774.86,2620.88 1777.86,2619.57 1780.86,2619.28 1783.87,2620.22 1786.87,2621.47 1789.87,2620.42 1792.88,2619.38 1795.88,2619.56 1798.88,2619.79 1801.88,2618.68 1804.89,2618.27 1807.89,2619.27 1810.89,2618.36 1813.89,2619.15 1816.9,2619.29 1819.9,2621.31 1822.9,2618.43 1825.91,2619.08 1828.91,2619.03 1831.91,2619.57 1834.91,2620.11 1837.92,2618.72 1840.92,2618.42 1843.92,2617.68 1846.93,2618.31 1849.93,2619.62 1852.93,2619.18 1855.93,2618.22 1858.94,2618.79 1861.94,2619.15 1864.94,2619.57 1867.95,2618.57 1870.95,2618.88 1873.95,2617.46 1876.95,2618.05 1879.96,2620.54 1882.96,2617.11 1885.96,2618.77 1888.97,2619.27 1891.97,2618.73 1894.97,2618.33 1897.97,2619 1900.98,2619.04 1903.98,2618.97 1906.98,2617.34 1909.99,2618.9 1912.99,2618.25 1915.99,2618.52 1918.99,2619.22 1922,2619.58 1925,2619.81" fill="none" stroke="#000" stroke-width="6.5" stroke-linejoin="round"/>
<line x1="714.8" y1="2716" x2="714.8" y2="2810" stroke="#8a8a8a" stroke-width="2.2"/>
<line x1="714.8" y1="2810" x2="714.8" y2="2895" stroke="#000" stroke-width="4"/>
<line x1="714.8" y1="2895" x2="715.3" y2="2940" stroke="#8a8a8a" stroke-width="2.2"/>
<polyline points="715.5,2939.55 716.33,2942.83 717.17,2945.06 718,2947.02 720,2947.75 722,2946.87 724.06,2946.84 726.12,2947.74 728.19,2945.77 730.25,2947.19 732.31,2946.52 734.38,2946.67 736.44,2945.43 738.5,2946.2 740.56,2946.98 742.62,2947.8 744.69,2947.89 746.75,2946.93 748.81,2946.83 750.88,2946.25 752.94,2947.36 755,2946.78 756.4,2945.75 757.8,2944.98 759.2,2941.57 760.6,2938.45 762,2937.23 762.6,2934.49 763.2,2932.52 763.8,2932.57 764.4,2929.4 765,2925.63 767.06,2926.77 769.11,2926.51 771.17,2924.23 773.23,2923.13 775.29,2922.62 777.34,2922.37 779.4,2921.88 780.99,2920.78 782.57,2919.22 784.16,2917.61 785.74,2916.18 787.33,2913.97 788.91,2910.41 790.5,2910.08 791.73,2908.63 792.97,2906.16 794.2,2905.47 795.43,2902.48 796.67,2900.12 797.9,2900.4 799.74,2898.64 801.59,2897.18 803.43,2896.76 805.27,2895.83 807.11,2894.12 808.96,2890.55 810.8,2891.09 812.91,2891.02 815.03,2890.29 817.14,2891.09 819.26,2891.72 821.37,2889.94 823.49,2889.09 825.6,2891.68 827.71,2889.18 829.83,2888.21 831.94,2889.27 834.06,2889.18 836.17,2887.89 838.29,2888.98 840.4,2887.56" fill="none" stroke="#000" stroke-width="6" stroke-linejoin="round"/>
<polyline points="840.4,2886.34 842.46,2888.88 844.51,2890.5 846.57,2888.53 848.62,2890.82 850.68,2890.61 852.73,2896.42 854.79,2890.61 856.84,2894.94 858.9,2892.91 860.96,2892.02 863.01,2892.79 865.07,2892.34 867.12,2892.26 869.18,2889.81 871.23,2887.39 873.29,2886.74 875.34,2887.87 877.4,2887.25 879.38,2888.24 881.37,2886 883.35,2886.68 885.34,2887.02 887.32,2884.11 889.31,2880.66 891.29,2880.74 893.28,2879.8 895.26,2884.77 897.25,2879.91 899.23,2883.17 901.22,2881.53 903.2,2883.09 905.21,2881.91 907.22,2880.03 909.23,2879.97 911.23,2880.59 913.24,2880.86 915.25,2879.7 917.26,2880.7 919.27,2883.77 921.28,2877.91 923.29,2881.55 925.3,2879.56 927.3,2881.64 929.31,2882.92 931.32,2881.42 933.33,2883.02 935.34,2878.88 937.35,2883.84 939.36,2880.87 941.37,2883.19 943.37,2882.5 945.38,2877.63 947.39,2881.03 949.4,2882.9 951.48,2884.86 953.55,2882.14 955.62,2881.65 957.7,2878.21 959.77,2882.89 961.85,2883.13 963.92,2879.49 966,2878.6" fill="none" stroke="#000" stroke-width="7.5" stroke-linejoin="round"/>
<polyline points="840.4,2878.29 841.82,2893.68 843.25,2904.98 844.67,2893.46 846.09,2897.12 847.52,2893.18 848.94,2884.4 850.36,2898.71 851.78,2883.67 853.21,2890.2 854.63,2893.52 856.05,2897.53 857.48,2895.11 858.9,2895.32 860.22,2887.95 861.54,2884.29 862.86,2891.91 864.19,2886.8 865.51,2882.72 866.83,2882.49 868.15,2886.66 869.47,2878 870.79,2880.54 872.11,2878.33 873.44,2888.75 874.76,2889.62 876.08,2898.73 877.4,2877.21 878.83,2881.78 880.27,2890.99 881.7,2883.87 883.13,2882.86 884.57,2894.73 886,2882.1 887.43,2876.85 888.87,2875.54 890.3,2885.11 891.73,2884.59 893.17,2874.18 894.6,2876.15 896.03,2884.93 897.47,2884.84 898.9,2877.17 900.33,2884.42 901.77,2883.78 903.2,2869.3 904.6,2878.2 906,2882.64 907.4,2876.79 908.8,2867.47 910.2,2878.68 911.6,2884.97 913,2890.01 914.4,2867.46 915.8,2896.36 917.2,2873.99 918.6,2886.58 920,2888.31 921.4,2886.88 922.8,2881.96 924.2,2874.17 925.6,2884.97 927,2877 928.4,2866.23 929.8,2898.41 931.2,2885.76 932.6,2892.5 934,2876.2 935.4,2890.55 936.8,2891.36 938.2,2891.22 939.6,2881.84 941,2874.83 942.4,2881.06 943.8,2868.98 945.2,2872.06 946.6,2882.9 948,2876.48 949.4,2881.51 950.78,2881.55 952.17,2893.5 953.55,2889.41 954.93,2881.06 956.32,2888.3 957.7,2876.07 959.08,2878.44 960.47,2885.63 961.85,2872.43 963.23,2877.91 964.62,2871.37 966,2879.7" fill="none" stroke="#000" stroke-width="2.2" stroke-linejoin="round"/>
<polyline points="968,2895.94 970,2891.46 972,2893.03 974,2890.82 976,2890.18 978,2889.84 980,2894.49 982,2895.94 984,2892.37 986,2890.02 988,2892.39 990,2890.34 992,2892.19 994,2891.09 996,2890.88 998,2891.28 1000,2888.96 1002,2889.35 1004,2887.06 1006,2889.44 1008,2887.76 1010,2890.14 1012,2888.76 1014,2890.74 1016,2891.46 1018,2888.16 1020,2889.34 1022,2889.18 1024,2892.3 1026,2894.11 1028,2892.65 1030,2890.57 1032,2893.92 1034,2888.63 1036,2894.14 1038,2890.34 1040,2886.6 1042,2896.45 1044,2894.6 1046,2889.98 1048,2892.22 1050,2891.61 1052,2892.26 1054,2889.49 1056,2891.01 1058,2893.16 1060,2892.8 1062,2894.64 1064,2892.7 1066,2896.87 1068,2891.43 1070,2893.27 1072,2889.43 1074,2890.7 1076,2895.43 1078,2891.42 1080,2894.16 1082,2893.17 1084,2891.48 1086,2892.81 1088,2892.59 1090,2892.72 1092,2895.04 1094,2894.93 1096,2892.8 1098,2892.29 1100,2894.51 1102,2893.88 1104,2895.97 1106,2898.96 1108,2895.76 1110,2894.24 1112,2894.05 1114,2892.88 1116,2892.85 1118,2892.73 1120,2893.89 1122,2893.89 1124,2896.06 1126,2894.06 1128,2894.48 1130,2892.71 1132,2897.92 1134,2895.93 1136,2898.3 1138,2896.57 1140,2897.88 1142,2894.81 1144,2896.61 1146,2900.25 1148,2893.24 1150,2897.62 1152,2898.62 1154,2896.38 1156,2897.06 1158,2898.04 1160,2894.59 1162,2896.61 1164,2894.32 1166,2894.74 1168,2894.9 1170,2895.84 1172,2896.43 1174,2897.05 1176,2893.67 1178,2899.99 1180,2898.53 1182,2897.8 1184,2895.86 1186,2896.42 1188,2897.65 1190,2897.46 1192,2893.66 1194,2898.19 1196,2902.26 1198,2893.53 1200,2898.84 1202,2897.74 1204,2896.91 1206,2899.71 1208,2895.06 1210,2897.6 1212,2900.06 1214,2897.06 1216,2896.71 1218,2897.75 1220,2896.78 1222,2900.52 1224,2896.04 1226,2899.39 1228,2895.52 1230,2899.14 1232,2897.77 1234,2893.24 1236,2898.07 1238,2896.17 1240,2897.38 1242,2901.11 1244,2896.25 1246,2896.42 1248,2901.11 1250,2898.71 1252,2901.41 1254,2899.22 1256,2897.05 1258,2898.62 1260,2901.08 1262,2900.6 1264,2898.92 1266,2899.07 1268,2898.83 1270,2898.03 1272,2902.73 1274,2899.23 1276,2897.19 1278,2898.46 1280,2900.74 1282,2900.65 1284,2899.27 1286,2898.34 1288,2899.68 1290,2896.6 1292,2897.35 1294,2901.3 1296,2898.99 1298,2900.63 1300,2902.25 1302,2901.25 1304,2900.13 1306,2904.07 1308,2901.41 1310,2899.57 1312,2901.62 1314,2901.07 1316,2898.77 1318,2900.54 1320,2900.14 1322,2896.85 1324,2900.21 1326,2900.05 1328,2899.81 1330,2897.62 1332,2900.05 1334,2900.68 1336,2900.99 1338,2898.74 1340,2902.06 1342,2898.68 1344,2900.56 1346,2903.44 1348,2899.79 1350,2900.17 1352,2903.14 1354,2900.49 1356,2900.69 1358,2901.7 1360,2903.27 1362,2897.3 1364,2899.89 1366,2899.6 1368,2899.51 1370,2899.98 1372,2900.05 1374,2902.2 1376,2900.05 1378,2901.96 1380,2902.52 1382,2900.48 1384,2902.11 1386,2904.93 1388,2902.55 1390,2900.82" fill="none" stroke="#000" stroke-width="7.5" stroke-linejoin="round"/>
<polyline points="968,2892.6 969.45,2887.24 970.91,2894.39 972.36,2897.89 973.82,2887.43 975.27,2891.03 976.73,2899.01 978.18,2888.99 979.64,2893.06 981.09,2885.5 982.55,2886.62 984,2888.36 985.45,2904.42 986.91,2888.77 988.36,2887.91 989.82,2887.58 991.27,2889.82 992.73,2894.62 994.18,2891.68 995.64,2902.76 997.09,2891.56 998.55,2898.82 1000,2891.66 1001.41,2893.69 1002.82,2881.45 1004.23,2889.41 1005.63,2889.81 1007.04,2888.82 1008.45,2877.42 1009.86,2895.68 1011.27,2888.13 1012.68,2887.88 1014.08,2889.03 1015.49,2889.25 1016.9,2893.12 1018.31,2883.11 1019.72,2885.2 1021.13,2892.59 1022.54,2891.77 1023.94,2888.7 1025.35,2887.57 1026.76,2886.06 1028.17,2890.78 1029.58,2898.27 1030.99,2884.89 1032.39,2900.44 1033.8,2896.42 1035.21,2888.69 1036.62,2896.16 1038.03,2882.73 1039.44,2881.19 1040.85,2883.9 1042.25,2889.23 1043.66,2889.79 1045.07,2888.71 1046.48,2892.46 1047.89,2879.1 1049.3,2894.94 1050.7,2883.51 1052.11,2888.12 1053.52,2889.66 1054.93,2885.26 1056.34,2884.03 1057.75,2886.27 1059.15,2892.29 1060.56,2895.96 1061.97,2895.86 1063.38,2886.57 1064.79,2887.84 1066.2,2887.12 1067.61,2895.4 1069.01,2880.54 1070.42,2900.25 1071.83,2889.96 1073.24,2888.23 1074.65,2895.02 1076.06,2899.24 1077.46,2895.15 1078.87,2899.47 1080.28,2894.02 1081.69,2900.65 1083.1,2900.79 1084.51,2892.78 1085.92,2902.07 1087.32,2894.48 1088.73,2894.07 1090.14,2888.08 1091.55,2891.93 1092.96,2898.38 1094.37,2885.9 1095.77,2897.73 1097.18,2895.98 1098.59,2895.61 1100,2880.76 1101.41,2893.42 1102.82,2897.97 1104.23,2889.55 1105.63,2894.71 1107.04,2879.94 1108.45,2898.28 1109.86,2890.32 1111.27,2899.57 1112.68,2883.32 1114.08,2898.58 1115.49,2893.04 1116.9,2899.35 1118.31,2889 1119.72,2890.88 1121.13,2908.09 1122.54,2889.7 1123.94,2890.48 1125.35,2893.1 1126.76,2888.67 1128.17,2901.99 1129.58,2905.24 1130.99,2890.7 1132.39,2884.62 1133.8,2902.05 1135.21,2901.71 1136.62,2900.03 1138.03,2902.08 1139.44,2889.98 1140.85,2894.21 1142.25,2886.96 1143.66,2886.8 1145.07,2901.24 1146.48,2891.36 1147.89,2909.11 1149.3,2895.92 1150.7,2891.68 1152.11,2900.35 1153.52,2906.41 1154.93,2898.56 1156.34,2888.39 1157.75,2897.96 1159.15,2904.03 1160.56,2892.86 1161.97,2891.22 1163.38,2902 1164.79,2896.78 1166.2,2889.37 1167.61,2893.75 1169.01,2891.54 1170.42,2897.89 1171.83,2896.81 1173.24,2903.1 1174.65,2900.5 1176.06,2886.9 1177.46,2898.77 1178.87,2901.75 1180.28,2899.14 1181.69,2902.63 1183.1,2893.2 1184.51,2890.83 1185.92,2902.16 1187.32,2890.23 1188.73,2883.7 1190.14,2902.86 1191.55,2892.4 1192.96,2894.95 1194.37,2888.44 1195.77,2888.92 1197.18,2889.98 1198.59,2894.79 1200,2899.22 1201.41,2883.26 1202.82,2901.6 1204.23,2890.03 1205.63,2890.77 1207.04,2901.28 1208.45,2896.81 1209.86,2888.08 1211.27,2908.41 1212.68,2892.22 1214.08,2898.91 1215.49,2898.66 1216.9,2905.98 1218.31,2894.82 1219.72,2903.64 1221.13,2893.18 1222.54,2904.41 1223.94,2893.14 1225.35,2895.59 1226.76,2909.18 1228.17,2899.75 1229.58,2898.55 1230.99,2911.38 1232.39,2900.14 1233.8,2893.12 1235.21,2902.46 1236.62,2891.01 1238.03,2904.91 1239.44,2905.42 1240.85,2894.79 1242.25,2894.5 1243.66,2899.37 1245.07,2898.44 1246.48,2892.53 1247.89,2901.85 1249.3,2886.23 1250.7,2895.92 1252.11,2896.14 1253.52,2896.97 1254.93,2900.49 1256.34,2891.32 1257.75,2902.26 1259.15,2897.69 1260.56,2894.92 1261.97,2890.66 1263.38,2891.8 1264.79,2901.11 1266.2,2893.2 1267.61,2899.41 1269.01,2905.44 1270.42,2905.31 1271.83,2908.52 1273.24,2897.42 1274.65,2892.73 1276.06,2905.4 1277.46,2901.18 1278.87,2906.11 1280.28,2899.47 1281.69,2906.62 1283.1,2904.57 1284.51,2903.83 1285.92,2902.6 1287.32,2902.01 1288.73,2901.06 1290.14,2901.06 1291.55,2905.69 1292.96,2896.72 1294.37,2910.25 1295.77,2899.24 1297.18,2905.83 1298.59,2899.42 1300,2898.52 1301.41,2912.22 1302.81,2898.21 1304.22,2892.43 1305.62,2895.84 1307.03,2898.25 1308.44,2913.12 1309.84,2901.46 1311.25,2905.86 1312.66,2894.27 1314.06,2902.43 1315.47,2904.37 1316.88,2911.18 1318.28,2896.23 1319.69,2904.06 1321.09,2902.28 1322.5,2894.37 1323.91,2900.41 1325.31,2898.98 1326.72,2886.64 1328.12,2904.22 1329.53,2903.9 1330.94,2898.05 1332.34,2892.69 1333.75,2909.63 1335.16,2902.38 1336.56,2906.91 1337.97,2909.31 1339.38,2897.75 1340.78,2905.78 1342.19,2899.49 1343.59,2900.59 1345,2900.49 1346.41,2901.02 1347.81,2907.75 1349.22,2901.84 1350.62,2900.2 1352.03,2899.5 1353.44,2903.24 1354.84,2895.85 1356.25,2898.23 1357.66,2900.97 1359.06,2897.92 1360.47,2900.63 1361.88,2897.71 1363.28,2913.43 1364.69,2909.41 1366.09,2904.17 1367.5,2901.18 1368.91,2914.68 1370.31,2903.5 1371.72,2901.07 1373.12,2903.44 1374.53,2903.49 1375.94,2910.15 1377.34,2901.6 1378.75,2914.35 1380.16,2896.49 1381.56,2905.98 1382.97,2895.83 1384.38,2912.78 1385.78,2899.92 1387.19,2901.59 1388.59,2907.51 1390,2909.53" fill="none" stroke="#000" stroke-width="2.2" stroke-linejoin="round"/>
<line x1="1393.3" y1="2621.6" x2="1393.3" y2="2666" stroke="#000" stroke-width="4"/>
<line x1="1393.3" y1="2666" x2="1393.3" y2="2789" stroke="#9a9a9a" stroke-width="2"/>
<line x1="1630.3" y1="2624" x2="1630.3" y2="2700" stroke="#bdbdbd" stroke-width="2"/>
<line x1="1630.3" y1="2700" x2="1630.3" y2="2880" stroke="#111" stroke-width="4"/>
<polyline points="1633,2977.89 1634.99,2978.02 1636.99,2976.34 1638.98,2977.24 1640.98,2976.37 1642.97,2975.49 1644.97,2974.53 1646.96,2974.19 1648.96,2973.2 1650.95,2973.84 1652.95,2974.2 1654.94,2970.12 1656.94,2971.31 1658.93,2970.37 1660.93,2970.65 1662.92,2968.57 1664.92,2968.75 1666.91,2967.22 1668.91,2968.33 1670.9,2967.1 1672.89,2966.25 1674.89,2966.19 1676.88,2964.99 1678.88,2963.09 1680.87,2964.65 1682.86,2963.76 1684.86,2962.73 1686.85,2963.28 1688.85,2962.92 1690.84,2960.03 1692.84,2959.75 1694.83,2961.49 1696.82,2960.77 1698.82,2958.03 1700.81,2957 1702.81,2956.95 1704.8,2956.5 1706.79,2955 1708.78,2956.21 1710.76,2954.48 1712.75,2954.14 1714.74,2955.86 1716.73,2953.85 1718.72,2954.05 1720.71,2954.33 1722.69,2954.11 1724.68,2952.55 1726.67,2952.51 1728.66,2951.23 1730.65,2953.39 1732.64,2951.89 1734.62,2949.72 1736.61,2950.42 1738.6,2950.71 1740.59,2950.24 1742.59,2951.36 1744.58,2950.67 1746.58,2948.52 1748.57,2948.73 1750.56,2947.31 1752.56,2948.6 1754.55,2948.27 1756.55,2950.59 1758.54,2947.74 1760.54,2945.32 1762.53,2946.5 1764.52,2947.05 1766.52,2945.45 1768.51,2945.6 1770.51,2945.87 1772.5,2946.34" fill="none" stroke="#000" stroke-width="6.5" stroke-linejoin="round"/>
<line x1="1774.2" y1="2946" x2="1774.2" y2="2929" stroke="#000" stroke-width="4"/>
<line x1="1774.2" y1="2929" x2="1774.2" y2="2903" stroke="#9a9a9a" stroke-width="2"/>
<line x1="1777" y1="2585" x2="1777" y2="2612" stroke="#111" stroke-width="4"/>
<line x1="1777" y1="2612" x2="1777" y2="2746" stroke="#8a8a8a" stroke-width="2.5"/>
<polyline points="586,2625 608.24,2607 630.48,2607 652.72,2607 674.96,2607 697.2,2607 719.44,2607 741.68,2607 763.92,2630 786.16,2643.5 808.4,2651.5 830.64,2666 852.88,2682 875.12,2704.4 897.36,2735 919.6,2758.7 941.84,2773.3 964.08,2790.5 986.32,2809 1008.56,2821.7 1030.8,2812.4 1053.04,2798.6 1075.28,2781.7 1097.52,2769.3 1119.76,2769.3 1142,2772.4 1164.24,2763.8 1186.48,2777.9 1208.72,2777.9 1230.96,2794 1253.2,2804.8 1275.44,2795.5 1297.68,2767.8 1319.92,2789.4 1342.16,2771 1364.4,2780 1386.64,2792.4 1408.88,2801 1431.12,2783 1453.36,2818.7 1475.6,2815.4 1497.84,2800 1520.08,2810.3 1542.32,2790 1564.56,2786.6 1586.8,2768 1609.04,2771.3 1631.28,2769.6 1653.52,2786.6 1675.76,2786.6 1698,2786.6 1720.24,2778 1742.48,2778 1764.72,2813.7 1786.96,2847.5 1809.2,2851 1831.44,2847.5 1853.68,2817 1875.92,2813.7 1898.16,2788.3 1920.4,2768" fill="none" stroke="#6f6f6f" stroke-width="2.4" stroke-linejoin="round"/>
<path d="M573.5 2612.5L598.5 2637.5M573.5 2637.5L598.5 2612.5" stroke="#a5a5a5" stroke-width="2.4" fill="none"/>
<path d="M595.74 2607H620.74M608.24 2594.5V2619.5M595.74 2594.5L620.74 2619.5M595.74 2619.5L620.74 2594.5" stroke="#666" stroke-width="2.6" fill="none"/>
<path d="M617.98 2594.5L642.98 2619.5M617.98 2619.5L642.98 2594.5" stroke="#555" stroke-width="2.4" fill="none"/>
<path d="M640.22 2607H665.22M652.72 2594.5V2619.5M640.22 2594.5L665.22 2619.5M640.22 2619.5L665.22 2594.5" stroke="#666" stroke-width="2.6" fill="none"/>
<path d="M662.46 2594.5L687.46 2619.5M662.46 2619.5L687.46 2594.5" stroke="#555" stroke-width="2.4" fill="none"/>
<path d="M684.7 2607H709.7M697.2 2594.5V2619.5M684.7 2594.5L709.7 2619.5M684.7 2619.5L709.7 2594.5" stroke="#666" stroke-width="2.6" fill="none"/>
<path d="M706.94 2594.5L731.94 2619.5M706.94 2619.5L731.94 2594.5" stroke="#555" stroke-width="2.4" fill="none"/>
<path d="M729.18 2607H754.18M741.68 2594.5V2619.5M729.18 2594.5L754.18 2619.5M729.18 2619.5L754.18 2594.5" stroke="#666" stroke-width="2.6" fill="none"/>
<path d="M751.42 2617.5L776.42 2642.5M751.42 2642.5L776.42 2617.5" stroke="#a5a5a5" stroke-width="2.4" fill="none"/>
<path d="M773.66 2643.5H798.66M786.16 2631V2656M773.66 2631L798.66 2656M773.66 2656L798.66 2631" stroke="#3c3c3c" stroke-width="2.6" fill="none"/>
<circle cx="786.16" cy="2643.5" r="3.5" fill="#222"/>
<path d="M795.9 2651.5H820.9M808.4 2639V2664M795.9 2639L820.9 2664M795.9 2664L820.9 2639" stroke="#3c3c3c" stroke-width="2.6" fill="none"/>
<circle cx="808.4" cy="2651.5" r="3.5" fill="#222"/>
<path d="M818.14 2666H843.14M830.64 2653.5V2678.5M818.14 2653.5L843.14 2678.5M818.14 2678.5L843.14 2653.5" stroke="#3c3c3c" stroke-width="2.6" fill="none"/>
<circle cx="830.64" cy="2666" r="3.5" fill="#222"/>
<path d="M840.38 2682H865.38M852.88 2669.5V2694.5M840.38 2669.5L865.38 2694.5M840.38 2694.5L865.38 2669.5" stroke="#666" stroke-width="2.6" fill="none"/>
<path d="M862.62 2704.4H887.62M875.12 2691.9V2716.9M862.62 2691.9L887.62 2716.9M862.62 2716.9L887.62 2691.9" stroke="#a8a8a8" stroke-width="2.6" fill="none"/>
<path d="M884.86 2735H909.86M897.36 2722.5V2747.5M884.86 2722.5L909.86 2747.5M884.86 2747.5L909.86 2722.5" stroke="#a8a8a8" stroke-width="2.6" fill="none"/>
<path d="M907.1 2746.2L932.1 2771.2M907.1 2771.2L932.1 2746.2" stroke="#555" stroke-width="2.4" fill="none"/>
<path d="M929.34 2760.8L954.34 2785.8M929.34 2785.8L954.34 2760.8" stroke="#555" stroke-width="2.4" fill="none"/>
<path d="M951.58 2778L976.58 2803M951.58 2803L976.58 2778" stroke="#555" stroke-width="2.4" fill="none"/>
<path d="M973.82 2796.5L998.82 2821.5M973.82 2821.5L998.82 2796.5" stroke="#a5a5a5" stroke-width="2.4" fill="none"/>
<path d="M996.06 2809.2L1021.06 2834.2M996.06 2834.2L1021.06 2809.2" stroke="#555" stroke-width="2.4" fill="none"/>
<path d="M1018.3 2799.9L1043.3 2824.9M1018.3 2824.9L1043.3 2799.9" stroke="#555" stroke-width="2.4" fill="none"/>
<path d="M1040.54 2786.1L1065.54 2811.1M1040.54 2811.1L1065.54 2786.1" stroke="#555" stroke-width="2.4" fill="none"/>
<path d="M1062.78 2769.2L1087.78 2794.2M1062.78 2794.2L1087.78 2769.2" stroke="#555" stroke-width="2.4" fill="none"/>
<path d="M1085.02 2769.3H1110.02M1097.52 2756.8V2781.8M1085.02 2756.8L1110.02 2781.8M1085.02 2781.8L1110.02 2756.8" stroke="#3c3c3c" stroke-width="2.6" fill="none"/>
<circle cx="1097.52" cy="2769.3" r="3.5" fill="#222"/>
<path d="M1107.26 2769.3H1132.26M1119.76 2756.8V2781.8M1107.26 2756.8L1132.26 2781.8M1107.26 2781.8L1132.26 2756.8" stroke="#3c3c3c" stroke-width="2.6" fill="none"/>
<circle cx="1119.76" cy="2769.3" r="3.5" fill="#222"/>
<path d="M1129.5 2772.4H1154.5M1142 2759.9V2784.9M1129.5 2759.9L1154.5 2784.9M1129.5 2784.9L1154.5 2759.9" stroke="#3c3c3c" stroke-width="2.6" fill="none"/>
<circle cx="1142" cy="2772.4" r="3.5" fill="#222"/>
<path d="M1151.74 2763.8H1176.74M1164.24 2751.3V2776.3M1151.74 2751.3L1176.74 2776.3M1151.74 2776.3L1176.74 2751.3" stroke="#3c3c3c" stroke-width="2.6" fill="none"/>
<circle cx="1164.24" cy="2763.8" r="3.5" fill="#222"/>
<path d="M1173.98 2777.9H1198.98M1186.48 2765.4V2790.4M1173.98 2765.4L1198.98 2790.4M1173.98 2790.4L1198.98 2765.4" stroke="#3c3c3c" stroke-width="2.6" fill="none"/>
<circle cx="1186.48" cy="2777.9" r="3.5" fill="#222"/>
<path d="M1196.22 2777.9H1221.22M1208.72 2765.4V2790.4M1196.22 2765.4L1221.22 2790.4M1196.22 2790.4L1221.22 2765.4" stroke="#3c3c3c" stroke-width="2.6" fill="none"/>
<circle cx="1208.72" cy="2777.9" r="3.5" fill="#222"/>
<path d="M1218.46 2781.5L1243.46 2806.5M1218.46 2806.5L1243.46 2781.5" stroke="#555" stroke-width="2.4" fill="none"/>
<path d="M1240.7 2792.3L1265.7 2817.3M1240.7 2817.3L1265.7 2792.3" stroke="#555" stroke-width="2.4" fill="none"/>
<path d="M1262.94 2783L1287.94 2808M1262.94 2808L1287.94 2783" stroke="#555" stroke-width="2.4" fill="none"/>
<path d="M1285.18 2755.3L1310.18 2780.3M1285.18 2780.3L1310.18 2755.3" stroke="#555" stroke-width="2.4" fill="none"/>
<path d="M1307.42 2776.9L1332.42 2801.9M1307.42 2801.9L1332.42 2776.9" stroke="#555" stroke-width="2.4" fill="none"/>
<path d="M1329.66 2758.5L1354.66 2783.5M1329.66 2783.5L1354.66 2758.5" stroke="#555" stroke-width="2.4" fill="none"/>
<path d="M1351.9 2767.5L1376.9 2792.5M1351.9 2792.5L1376.9 2767.5" stroke="#555" stroke-width="2.4" fill="none"/>
<path d="M1374.14 2779.9L1399.14 2804.9M1374.14 2804.9L1399.14 2779.9" stroke="#a5a5a5" stroke-width="2.4" fill="none"/>
<path d="M1396.38 2788.5L1421.38 2813.5M1396.38 2813.5L1421.38 2788.5" stroke="#555" stroke-width="2.4" fill="none"/>
<path d="M1418.62 2783H1443.62M1431.12 2770.5V2795.5M1418.62 2770.5L1443.62 2795.5M1418.62 2795.5L1443.62 2770.5" stroke="#a8a8a8" stroke-width="2.6" fill="none"/>
<path d="M1440.86 2806.2L1465.86 2831.2M1440.86 2831.2L1465.86 2806.2" stroke="#555" stroke-width="2.4" fill="none"/>
<path d="M1463.1 2815.4H1488.1M1475.6 2802.9V2827.9M1463.1 2802.9L1488.1 2827.9M1463.1 2827.9L1488.1 2802.9" stroke="#a8a8a8" stroke-width="2.6" fill="none"/>
<path d="M1485.34 2800H1510.34M1497.84 2787.5V2812.5M1485.34 2787.5L1510.34 2812.5M1485.34 2812.5L1510.34 2787.5" stroke="#3c3c3c" stroke-width="2.6" fill="none"/>
<circle cx="1497.84" cy="2800" r="3.5" fill="#222"/>
<path d="M1507.58 2797.8L1532.58 2822.8M1507.58 2822.8L1532.58 2797.8" stroke="#555" stroke-width="2.4" fill="none"/>
<path d="M1529.82 2777.5L1554.82 2802.5M1529.82 2802.5L1554.82 2777.5" stroke="#555" stroke-width="2.4" fill="none"/>
<path d="M1552.06 2774.1L1577.06 2799.1M1552.06 2799.1L1577.06 2774.1" stroke="#555" stroke-width="2.4" fill="none"/>
<path d="M1574.3 2755.5L1599.3 2780.5M1574.3 2780.5L1599.3 2755.5" stroke="#a5a5a5" stroke-width="2.4" fill="none"/>
<path d="M1596.54 2771.3H1621.54M1609.04 2758.8V2783.8M1596.54 2758.8L1621.54 2783.8M1596.54 2783.8L1621.54 2758.8" stroke="#3c3c3c" stroke-width="2.6" fill="none"/>
<circle cx="1609.04" cy="2771.3" r="3.5" fill="#222"/>
<path d="M1618.78 2769.6H1643.78M1631.28 2757.1V2782.1M1618.78 2757.1L1643.78 2782.1M1618.78 2782.1L1643.78 2757.1" stroke="#3c3c3c" stroke-width="2.6" fill="none"/>
<circle cx="1631.28" cy="2769.6" r="3.5" fill="#222"/>
<path d="M1641.02 2774.1L1666.02 2799.1M1641.02 2799.1L1666.02 2774.1" stroke="#555" stroke-width="2.4" fill="none"/>
<path d="M1663.26 2774.1L1688.26 2799.1M1663.26 2799.1L1688.26 2774.1" stroke="#555" stroke-width="2.4" fill="none"/>
<path d="M1685.5 2774.1L1710.5 2799.1M1685.5 2799.1L1710.5 2774.1" stroke="#555" stroke-width="2.4" fill="none"/>
<path d="M1707.74 2765.5L1732.74 2790.5M1707.74 2790.5L1732.74 2765.5" stroke="#555" stroke-width="2.4" fill="none"/>
<path d="M1729.98 2765.5L1754.98 2790.5M1729.98 2790.5L1754.98 2765.5" stroke="#555" stroke-width="2.4" fill="none"/>
<path d="M1752.22 2801.2L1777.22 2826.2M1752.22 2826.2L1777.22 2801.2" stroke="#555" stroke-width="2.4" fill="none"/>
<path d="M1774.46 2835L1799.46 2860M1774.46 2860L1799.46 2835" stroke="#a5a5a5" stroke-width="2.4" fill="none"/>
<path d="M1796.7 2838.5L1821.7 2863.5M1796.7 2863.5L1821.7 2838.5" stroke="#555" stroke-width="2.4" fill="none"/>
<path d="M1818.94 2835L1843.94 2860M1818.94 2860L1843.94 2835" stroke="#555" stroke-width="2.4" fill="none"/>
<path d="M1841.18 2817H1866.18M1853.68 2804.5V2829.5M1841.18 2804.5L1866.18 2829.5M1841.18 2829.5L1866.18 2804.5" stroke="#a8a8a8" stroke-width="2.6" fill="none"/>
<path d="M1863.42 2813.7H1888.42M1875.92 2801.2V2826.2M1863.42 2801.2L1888.42 2826.2M1863.42 2826.2L1888.42 2801.2" stroke="#666" stroke-width="2.6" fill="none"/>
<path d="M1885.66 2788.3H1910.66M1898.16 2775.8V2800.8M1885.66 2775.8L1910.66 2800.8M1885.66 2800.8L1910.66 2775.8" stroke="#3c3c3c" stroke-width="2.6" fill="none"/>
<circle cx="1898.16" cy="2788.3" r="3.5" fill="#222"/>
<path d="M1907.9 2768H1932.9M1920.4 2755.5V2780.5M1907.9 2755.5L1932.9 2780.5M1907.9 2780.5L1932.9 2755.5" stroke="#3c3c3c" stroke-width="2.6" fill="none"/>
<circle cx="1920.4" cy="2768" r="3.5" fill="#222"/>
<line x1="732.8" y1="2415.8" x2="922" y2="2416" stroke="#858585" stroke-width="3"/>
<polyline points="760.6,2395.4 733.5,2415.8 760.6,2430.3" fill="none" stroke="#858585" stroke-width="3" stroke-linejoin="round"/>
<line x1="1184" y1="2423.8" x2="1371" y2="2423.8" stroke="#858585" stroke-width="3"/>
<polyline points="1341,2409.4 1371,2423.8 1344,2441.7" fill="none" stroke="#858585" stroke-width="3" stroke-linejoin="round"/>
<line x1="1636" y1="2373.4" x2="1768.5" y2="2373.4" stroke="#858585" stroke-width="3"/>
<polyline points="1659,2356.5 1636.5,2373.4 1659,2393" fill="none" stroke="#858585" stroke-width="3" stroke-linejoin="round"/>
<polyline points="1745.4,2358 1768.5,2373.4 1745.4,2388.6" fill="none" stroke="#858585" stroke-width="3" stroke-linejoin="round"/>
<line x1="1014.7" y1="2921.8" x2="1059.3" y2="2960.2" stroke="#858585" stroke-width="2.6"/>
<line x1="1774.2" y1="2945.7" x2="2024.5" y2="3152.2" stroke="#858585" stroke-width="2.6"/>
<text class="R" transform="translate(32.63 113.88) scale(0.9722 1)" font-size="86.78" fill="#000">(a)</text>
<text class="R" transform="translate(42.85 1115.07) scale(0.9782 1)" font-size="88.22" fill="#000">(b)</text>
<text class="R" transform="translate(39.11 2176) scale(0.9477 1)" font-size="86.67" fill="#000">(c)</text>
<text class="S" transform="translate(304.67 93.2) scale(0.9759 1)" font-size="70.28" fill="#000">2.0x10</text>
<text class="S" transform="translate(512.47 60.4) scale(0.9796 1)" font-size="40" fill="#000">17</text>
<text class="S" transform="translate(306.34 308.09) scale(0.9483 1)" font-size="70.7" fill="#000">1.6x10</text>
<text class="S" transform="translate(509.57 274.9) scale(0.9796 1)" font-size="40" fill="#000">17</text>
<text class="S" transform="translate(306.34 511.1) scale(0.9578 1)" font-size="70" fill="#000">1.2x10</text>
<text class="S" transform="translate(509.57 478.7) scale(0.9656 1)" font-size="40.58" fill="#000">17</text>
<text class="S" transform="translate(305.26 717.7) scale(0.9750 1)" font-size="70.14" fill="#000">8.0x10</text>
<text class="S" transform="translate(512.42 683.88) scale(0.9578 1)" font-size="41.55" fill="#000">16</text>
<text class="S" transform="translate(302.43 907.29) scale(0.9650 1)" font-size="70.85" fill="#000">4.0x10</text>
<text class="S" transform="translate(509.52 874.08) scale(0.9554 1)" font-size="41.55" fill="#000">16</text>
<text class="S" transform="translate(676.33 967.21) scale(0.9709 1)" font-size="68.87" fill="#000">0.0</text>
<text class="S" transform="translate(941.36 975.72) scale(0.9756 1)" font-size="67.75" fill="#000">5.0x10</text>
<text class="S" transform="translate(1140.95 943.9) scale(0.9796 1)" font-size="39.57" fill="#000">-5</text>
<text class="S" transform="translate(1278.67 974.38) scale(1.0685 1)" font-size="62.39" fill="#000">1.0x10</text>
<text class="S" transform="translate(1476.91 943.34) scale(1.1518 1)" font-size="34.41" fill="#000">-4</text>
<text class="S" transform="translate(1617.14 974.38) scale(1.0540 1)" font-size="62.39" fill="#000">1.5x10</text>
<text class="S" transform="translate(1812.39 943.34) scale(1.1695 1)" font-size="34.41" fill="#000">-4</text>
<text class="S" transform="translate(1015.55 1121.59) scale(1.0587 1)" font-size="82.45" fill="#000">time [s]</text>
<text class="S" transform="translate(202.4 603.6) rotate(-90) scale(1.0500 1)" font-size="102.04" fill="#000">n</text>
<text class="S" transform="translate(239.4 544.22) rotate(-90) scale(1.0000 1)" font-size="62.88" fill="#000">i</text>
<text class="S" transform="translate(201.54 502.79) rotate(-90) scale(1.0622 1)" font-size="100.74" fill="#000">[m</text>
<text class="S" transform="translate(152.46 388.31) rotate(-90) scale(1.0137 1)" font-size="64.37" fill="#000">-3</text>
<text class="S" transform="translate(201.54 329.41) rotate(-90) scale(1.0075 1)" font-size="100.74" fill="#000">]</text>
<text class="S" transform="translate(428.82 1196.58) scale(0.9798 1)" font-size="66.06" fill="#000">1.6</text>
<text class="S" transform="translate(428.86 1292.16) scale(0.9448 1)" font-size="67.97" fill="#000">1.4</text>
<text class="S" transform="translate(428.78 1387.08) scale(0.9737 1)" font-size="67" fill="#000">1.2</text>
<text class="S" transform="translate(428.82 1481.34) scale(0.9798 1)" font-size="66.06" fill="#000">1.0</text>
<text class="S" transform="translate(426.65 1576.26) scale(1.0042 1)" font-size="66.06" fill="#000">0.8</text>
<text class="S" transform="translate(426.65 1671.18) scale(1.0042 1)" font-size="66.06" fill="#000">0.6</text>
<text class="S" transform="translate(426.67 1766.1) scale(0.9966 1)" font-size="66.06" fill="#000">0.4</text>
<text class="S" transform="translate(426.63 1861.02) scale(1.0120 1)" font-size="66.06" fill="#000">0.2</text>
<text class="S" transform="translate(426.65 1955.94) scale(1.0042 1)" font-size="66.06" fill="#000">0.0</text>
<text class="S" transform="translate(671.35 2021.56) scale(1.0350 1)" font-size="63.94" fill="#000">0.0</text>
<text class="S" transform="translate(937.36 2030.52) scale(0.9696 1)" font-size="68.17" fill="#000">5.0x10</text>
<text class="S" transform="translate(1135.54 2004.1) scale(0.9235 1)" font-size="39.57" fill="#000">-5</text>
<text class="S" transform="translate(1271.87 2028.38) scale(1.0831 1)" font-size="61.55" fill="#000">1.0x10</text>
<text class="S" transform="translate(1470.34 1998.74) scale(1.2049 1)" font-size="34.41" fill="#000">-4</text>
<text class="S" transform="translate(1610.11 2028.38) scale(1.0532 1)" font-size="61.55" fill="#000">1.5x10</text>
<text class="S" transform="translate(1805.32 1998.74) scale(1.2226 1)" font-size="34.41" fill="#000">-4</text>
<text class="S" transform="translate(1038.05 2164.08) scale(1.0245 1)" font-size="85.32" fill="#000">time [s]</text>
<text class="S" transform="translate(298.6 1632.46) rotate(-90) scale(0.9211 1)" font-size="106.67" fill="#000">T</text>
<text class="S" transform="translate(335.36 1571.33) rotate(-90) scale(0.9109 1)" font-size="64" fill="#000">e</text>
<text class="S" transform="translate(296.45 1539.83) rotate(-90) scale(1.0267 1)" font-size="97.87" fill="#000">[eV]</text>
<text class="S" transform="translate(458.98 2290.17) scale(1.0579 1)" font-size="53.38" fill="#7a7a7a">60</text>
<text class="S" transform="translate(461.42 2401.97) scale(1.0152 1)" font-size="53.38" fill="#7a7a7a">40</text>
<text class="S" transform="translate(462.25 2524.37) scale(1.0285 1)" font-size="53.38" fill="#7a7a7a">20</text>
<text class="S" transform="translate(516.18 2637.16) scale(0.9887 1)" font-size="53.52" fill="#000">0</text>
<text class="S" transform="translate(432.58 2721.34) scale(0.9980 1)" font-size="55.63" fill="#000">-200</text>
<text class="S" transform="translate(434.8 2811.44) scale(0.9852 1)" font-size="55.77" fill="#000">-400</text>
<text class="S" transform="translate(433.79 2901.46) scale(1.0208 1)" font-size="54.08" fill="#000">-600</text>
<text class="S" transform="translate(434.79 2991.44) scale(0.9924 1)" font-size="55.63" fill="#000">-800</text>
<text class="S" transform="translate(1977.27 2636.72) scale(1.0126 1)" font-size="57.61" fill="#000">0</text>
<text class="S" transform="translate(1963.79 2745.52) scale(1.0444 1)" font-size="57.61" fill="#000">-2x10</text>
<text class="S" transform="translate(2112.47 2717.67) scale(1.1568 1)" font-size="32.96" fill="#000">-3</text>
<text class="S" transform="translate(1963.79 2859.01) scale(1.0147 1)" font-size="59.3" fill="#000">-4x10</text>
<text class="S" transform="translate(2113.47 2828.87) scale(1.1606 1)" font-size="32.96" fill="#000">-3</text>
<text class="S" transform="translate(1963.79 2979.39) scale(0.9888 1)" font-size="60.85" fill="#000">-6x10</text>
<text class="S" transform="translate(2113.47 2948.07) scale(1.1606 1)" font-size="32.96" fill="#000">-3</text>
<text class="S" transform="translate(660.59 3117.56) scale(1.0612 1)" font-size="63.8" fill="#000">0.0</text>
<text class="S" transform="translate(925.85 3127.34) scale(0.9948 1)" font-size="66.48" fill="#000">5.0x10</text>
<text class="S" transform="translate(1125.32 3094.3) scale(1.0607 1)" font-size="39.57" fill="#000">-5</text>
<text class="S" transform="translate(1262.5 3126.36) scale(1.0171 1)" font-size="63.94" fill="#000">1.0x10</text>
<text class="S" transform="translate(1459.26 3094.74) scale(1.2652 1)" font-size="34.41" fill="#000">-4</text>
<text class="S" transform="translate(1599.09 3126.36) scale(1.0377 1)" font-size="63.94" fill="#000">1.5x10</text>
<text class="S" transform="translate(1797.32 3094.74) scale(1.2191 1)" font-size="34.41" fill="#000">-4</text>
<text class="S" transform="translate(1051.65 3257.71) scale(1.0612 1)" font-size="82.34" fill="#000">time [s]</text>
<text class="S" transform="translate(943.31 2435.55) scale(1.0338 1)" font-size="53.09" fill="#7a7a7a">Fe pulse</text>
<text class="S" transform="translate(1673.49 2278.32) scale(0.9667 1)" font-size="47.89" fill="#7a7a7a">Cu</text>
<text class="S" transform="translate(1650.94 2332.16) scale(1.0383 1)" font-size="43.51" fill="#7a7a7a">pulse</text>
<text class="S" transform="translate(1081.85 2981.61) scale(1.0025 1)" font-size="54.26" fill="#7a7a7a">Fe cathode voltage</text>
<text class="S" transform="translate(1865.48 3217.98) scale(0.9683 1)" font-size="56.28" fill="#7a7a7a">Cu cathode voltage</text>
<text class="S" transform="translate(360 2599.8) rotate(-90) scale(1.0000 1)" font-size="68.55" fill="#7a7a7a">I</text>
<text class="S" transform="translate(380.5 2579.27) rotate(-90) scale(0.9940 1)" font-size="69.73" fill="#7a7a7a">cathode</text>
<text class="S" transform="translate(360.23 2315.79) rotate(-90) scale(1.0951 1)" font-size="65.11" fill="#7a7a7a">[A]</text>
<text class="S" transform="translate(361.68 3079.74) rotate(-90) scale(0.9239 1)" font-size="72.29" fill="#000">U</text>
<text class="S" transform="translate(380.33 3031.07) rotate(-90) scale(1.0382 1)" font-size="66.76" fill="#000">cathode</text>
<text class="S" transform="translate(361.27 2766.24) rotate(-90) scale(1.0193 1)" font-size="67.77" fill="#000">[V]</text>
<text class="S" transform="translate(2245 3033.65) rotate(-90) scale(1.0000 1)" font-size="58.22" fill="#000">i</text>
<text class="S" transform="translate(2260.53 3016.63) rotate(-90) scale(1.0026 1)" font-size="57.43" fill="#000">ionflux</text>
<text class="S" transform="translate(2244.05 2831.81) rotate(-90) scale(1.0571 1)" font-size="56.91" fill="#000">[A/cm</text>
<text class="S" transform="translate(2221.7 2680.48) rotate(-90) scale(1.0212 1)" font-size="60.71" fill="#000">-2</text>
<text class="S" transform="translate(2244.05 2627.16) rotate(-90) scale(1.3353 1)" font-size="56.91" fill="#000">]</text>
</svg>
</body></html>
